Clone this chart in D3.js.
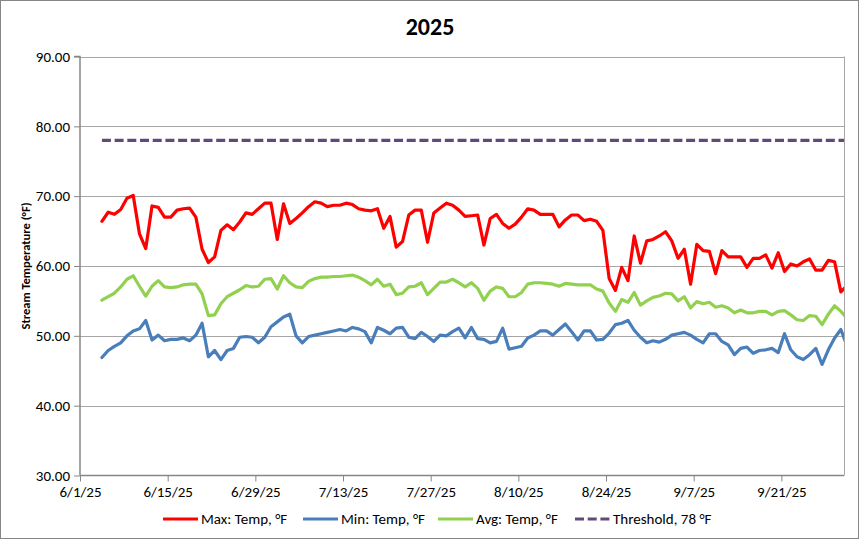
<!DOCTYPE html>
<html><head><meta charset="utf-8">
<script src="https://cdn.jsdelivr.net/npm/d3@7/dist/d3.min.js"></script>
<style>
html,body{margin:0;padding:0;background:#fff;}
svg{display:block;font-family:Calibri,Carlito,Lato,"Liberation Sans",sans-serif;}
</style></head><body>
<svg id="chart" width="859" height="539"></svg>
<script>
const startDate = "2025-06-04";
const maxTemp = [66.4,67.7,67.4,68.1,69.7,70.1,64.6,62.5,68.6,68.4,67.0,67.0,68.0,68.2,68.3,67.0,62.4,60.5,61.3,65.1,
65.9,65.2,66.3,67.6,67.4,68.2,69.0,69.0,63.8,68.9,66.1,66.8,67.6,68.5,69.2,69.0,68.5,68.7,68.7,69.0,
68.8,68.2,68.0,67.9,68.2,65.4,67.1,62.7,63.5,67.3,68.0,68.0,63.4,67.6,68.3,69.0,68.7,68.0,67.1,67.2,
67.3,63.0,66.8,67.4,66.1,65.4,66.0,67.0,68.2,68.0,67.4,67.4,67.4,65.6,66.6,67.3,67.3,66.5,66.7,66.4,
65.1,58.2,56.5,59.8,57.9,64.3,60.4,63.6,63.8,64.3,64.9,63.6,61.1,62.4,57.4,63.1,62.2,62.1,58.9,62.2,
61.3,61.3,61.3,59.8,61.1,61.1,61.6,59.7,61.9,59.2,60.3,60.0,60.6,61.0,59.4,59.4,60.8,60.6,56.3,57.2];
const minTemp = [46.9,47.9,48.5,49.0,50.0,50.7,51.0,52.2,49.4,50.1,49.3,49.5,49.5,49.7,49.3,50.1,51.8,47.0,47.9,46.6,
47.9,48.2,49.8,49.9,49.8,49.0,49.8,51.3,52.0,52.7,53.1,50.0,49.0,49.9,50.1,50.3,50.5,50.7,50.9,50.7,
51.2,51.0,50.6,49.0,51.2,50.8,50.3,51.1,51.2,49.8,49.6,50.5,49.9,49.2,50.1,50.0,50.6,51.1,49.7,51.2,
49.6,49.5,49.0,49.2,51.1,48.1,48.3,48.5,49.7,50.1,50.7,50.7,50.1,50.9,51.7,50.6,49.4,50.7,50.7,49.4,
49.5,50.4,51.6,51.8,52.2,50.8,49.8,49.0,49.3,49.1,49.5,50.1,50.3,50.5,50.1,49.5,49.0,50.3,50.3,49.2,
48.7,47.3,48.2,48.4,47.5,47.9,48.0,48.2,47.6,50.3,48.0,47.0,46.6,47.3,48.2,45.9,48.0,49.7,50.9,48.5];
const avgTemp = [55.1,55.6,56.1,57.0,58.1,58.6,57.1,55.7,57.1,57.9,57.0,56.9,57.0,57.3,57.4,57.4,56.0,52.9,53.0,54.6,
55.6,56.1,56.6,57.2,57.0,57.1,58.1,58.2,56.7,58.6,57.6,57.0,56.9,57.8,58.2,58.4,58.4,58.5,58.5,58.6,
58.7,58.4,57.9,57.3,58.1,57.1,57.4,55.9,56.1,57.0,57.1,57.6,55.9,56.8,57.7,57.7,58.1,57.6,57.0,57.6,
56.8,55.1,56.4,57.0,56.8,55.6,55.6,56.2,57.4,57.6,57.6,57.5,57.4,57.1,57.5,57.4,57.3,57.3,57.3,56.7,
56.4,54.7,53.5,55.2,54.8,56.2,54.4,55.0,55.5,55.7,56.1,56.0,55.0,55.6,54.0,54.9,54.6,54.8,54.1,54.3,
54.0,53.3,53.7,53.3,53.3,53.5,53.5,53.0,53.5,53.6,53.0,52.3,52.2,52.9,52.8,51.6,53.1,54.3,53.5,52.5];
const threshold = 78;
const xTickLabels = ["6/1/25","6/15/25","6/29/25","7/13/25","7/27/25","8/10/25","8/24/25","9/7/25","9/21/25"];
const yTicks = [30,40,50,60,70,80,90];
const seriesNames = ["Max: Temp, °F","Min: Temp, °F","Avg: Temp, °F","Threshold, 78 °F"];
const seriesColors = ["#ff0000","#4a7ebb","#92d050","#604a7b"];

const svg = d3.select("#chart");
const W = 859, H = 539;
const m = {left:80, right:15, top:56.5, bottom:63.5};
const pw = W - m.left - m.right, ph = H - m.top - m.bottom;

const parse = d3.utcParse("%Y-%m-%d");
const d0 = parse(startDate);
const dates = maxTemp.map((_, i) => d3.utcDay.offset(d0, i));
const x = d3.scaleUtc().domain([parse("2025-06-01"), parse("2025-10-01")]).range([m.left, m.left + pw]);
const y = d3.scaleLinear().domain([30, 90]).range([m.top + ph, m.top]);
const xc = d => x(d3.utcHour.offset(d, 12));

// outer border
svg.append("rect").attr("x",0.5).attr("y",0.5).attr("width",W-1).attr("height",H-1)
  .attr("fill","#fff").attr("stroke","#868686").attr("stroke-width",1);

// title
svg.append("text").attr("x", 430).attr("y", 35).attr("text-anchor","middle")
  .attr("font-size", 24).attr("font-weight","bold").text("2025");

// gridlines
svg.append("g").selectAll("line").data(yTicks.filter(t => t > 30)).join("line")
  .attr("x1", m.left).attr("x2", m.left + pw)
  .attr("y1", d => Math.round(y(d)) + 0.5).attr("y2", d => Math.round(y(d)) + 0.5)
  .attr("stroke", "#a6a6a6").attr("stroke-width", 1);
// right border
svg.append("line").attr("x1", m.left + pw + 0.5).attr("x2", m.left + pw + 0.5)
  .attr("y1", m.top).attr("y2", m.top + ph).attr("stroke","#a6a6a6");

// y axis
const yAxis = d3.axisLeft(y).tickValues(yTicks).tickFormat(d3.format(".2f")).tickSize(6).tickPadding(4);
const gy = svg.append("g").attr("transform", `translate(${m.left},0)`).call(yAxis);
gy.select(".domain").attr("stroke","#868686").attr("stroke-width",1.5).attr("d", `M-6,${y(90)}H0V${y(30)}`);
gy.selectAll(".tick line").attr("stroke","#868686");
gy.selectAll(".tick text").attr("font-size", 15).attr("fill","#000").attr("font-family","Calibri,Carlito,Lato,sans-serif");

// x axis
const xTickDates = xTickLabels.map(s => d3.utcParse("%m/%d/%y")(s));
const xAxis = d3.axisBottom(x).tickValues(xTickDates).tickFormat((d, i) => xTickLabels[i]).tickSize(6).tickPadding(5);
const gx = svg.append("g").attr("transform", `translate(0,${m.top + ph})`).call(xAxis);
gx.select(".domain").attr("stroke","#868686").attr("stroke-width",1.5).attr("d", `M${m.left},0H${m.left+pw}`);
gx.selectAll(".tick line").attr("stroke","#868686");
gx.selectAll(".tick text").attr("font-size", 15).attr("fill","#000").attr("font-family","Calibri,Carlito,Lato,sans-serif");

// y title
svg.append("text").attr("transform", `translate(30,${m.top + ph/2}) rotate(-90)`)
  .attr("text-anchor","middle").attr("font-size", 12.5).attr("font-weight","bold").text("Stream Temperature (°F)");

// clip
svg.append("clipPath").attr("id","plotclip").append("rect")
  .attr("x", m.left).attr("y", m.top).attr("width", pw).attr("height", ph);
const plot = svg.append("g").attr("clip-path","url(#plotclip)");

const line = d3.line().x((d, i) => xc(dates[i])).y(d => y(d));
const series = [maxTemp, minTemp, avgTemp, dates.map(() => threshold)];
series.forEach((s, k) => {
  plot.append("path").datum(s).attr("d", line).attr("fill","none")
    .attr("stroke", seriesColors[k]).attr("stroke-width", 3.2)
    .attr("stroke-linejoin","round").attr("stroke-linecap", k === 3 ? "butt" : "round")
    .attr("stroke-dasharray", k === 3 ? "9,3.7" : null);
});

// legend
const legX = [163, 303, 438, 575];
const lg = svg.append("g");
seriesNames.forEach((n, k) => {
  lg.append("line").attr("x1", legX[k]).attr("x2", legX[k] + 35).attr("y1", 519).attr("y2", 519)
    .attr("stroke", seriesColors[k]).attr("stroke-width", 3.2)
    .attr("stroke-dasharray", k === 3 ? "9,3.7" : null);
  lg.append("text").attr("x", legX[k] + 38).attr("y", 524).attr("font-size", 15).text(n);
});
</script></body></html>
